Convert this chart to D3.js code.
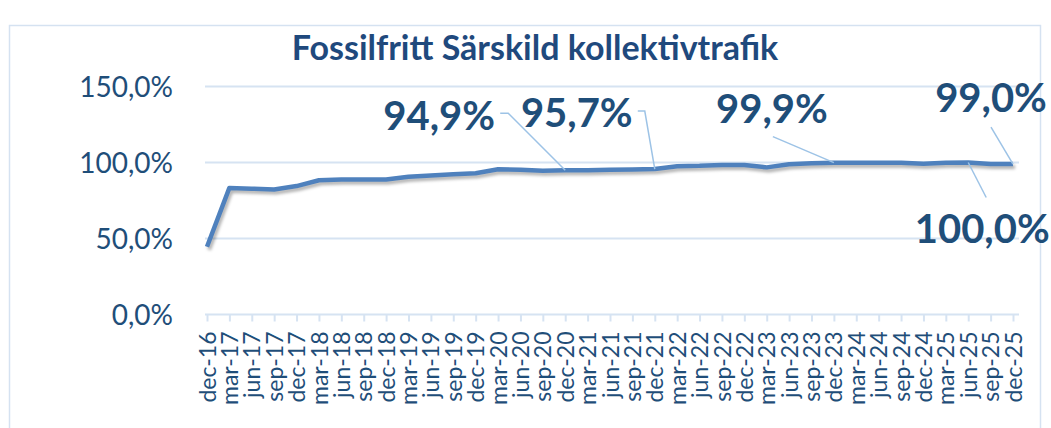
<!DOCTYPE html>
<html>
<head>
<meta charset="utf-8">
<script src="https://cdn.jsdelivr.net/npm/d3@7"></script>
<style>
  body { margin: 0; background: #fff; }
  svg { display: block; font-family: Lato, "Open Sans", sans-serif; }
</style>
</head>
<body>
<svg id="chart" width="1051" height="428"></svg>
<script>
// chart data
var periods = ["dec-16","mar-17","jun-17","sep-17","dec-17","mar-18","jun-18","sep-18","dec-18",
  "mar-19","jun-19","sep-19","dec-19","mar-20","jun-20","sep-20","dec-20","mar-21","jun-21",
  "sep-21","dec-21","mar-22","jun-22","sep-22","dec-22","mar-23","jun-23","sep-23","dec-23",
  "mar-24","jun-24","sep-24","dec-24","mar-25","jun-25","sep-25","dec-25"];
var shares = [44.6, 83.3, 82.8, 82.3, 84.5, 88.3, 88.8, 88.8, 88.8,
  90.6, 91.5, 92.2, 92.9, 95.5, 95.3, 94.6, 94.9, 94.9, 95.3,
  95.4, 95.7, 97.6, 97.8, 98.4, 98.3, 96.8, 98.9, 99.5, 99.9,
  99.9, 99.9, 99.8, 99.1, 99.8, 100.0, 99.0, 99.0];
var yTicks = [0, 50, 100, 150];
var labelPeriods = ["dec-20", "dec-21", "dec-23", "jun-25", "dec-25"];
var chartTitle = "Fossilfritt Särskild kollektivtrafik";

// label placement (offsets from the point, px) – layout only
var labelLayout = {
  "dec-20": {tx: -126, ty: -40, path: [[-65, -57], [-57, -57]]},
  "dec-21": {tx: -78, ty: -42, path: [[-17, -58], [-10, -58]]},
  "dec-23": {tx: -62, ty: -40, path: [[-61, -26]]},
  "jun-25": {tx: 14, ty: 80, path: [[18, 35]]},
  "dec-25": {tx: -22, ty: -52, path: [[-22, -37]]}
};

var svg = d3.select("#chart");
var blue = "#1F4E79";

var fmt = function (v) { return d3.format(".1f")(v).replace(".", ",") + "%"; };

var x = d3.scalePoint().domain(periods).range([207, 1013]);
var y = d3.scaleLinear().domain([0, 150]).range([314.5, 86.5]);

// outer frame
svg.append("rect")
  .attr("x", 9.5).attr("y", 25.5)
  .attr("width", 1031).attr("height", 410)
  .attr("fill", "none").attr("stroke", "#D5E2F1").attr("stroke-width", 1.5);

// title
svg.append("text")
  .attr("x", 535).attr("y", 60)
  .attr("text-anchor", "middle")
  .attr("font-size", 34).attr("font-weight", 700)
  .attr("fill", "#1F497D")
  .text(chartTitle);

// gridlines
svg.append("g").selectAll("line")
  .data(yTicks.filter(function (d) { return d > 0; }))
  .enter().append("line")
  .attr("x1", 205).attr("x2", 1019)
  .attr("y1", function (d) { return y(d); })
  .attr("y2", function (d) { return y(d); })
  .attr("stroke", "#D6E3F2").attr("stroke-width", 2);

// y axis labels
svg.append("g").selectAll("text")
  .data(yTicks)
  .enter().append("text")
  .attr("x", 173)
  .attr("y", function (d) { return y(d); })
  .attr("dy", "0.36em")
  .attr("text-anchor", "end")
  .attr("font-size", 28)
  .attr("fill", blue)
  .text(fmt);

// x axis
var xAxis = d3.axisBottom(x).tickSize(7).tickPadding(10).tickSizeOuter(0);
var gx = svg.append("g")
  .attr("transform", "translate(0," + y(0) + ")")
  .call(xAxis);
gx.select(".domain").remove();
gx.append("line")
  .attr("x1", 205).attr("x2", 1019)
  .attr("stroke", "#D6E3F2").attr("stroke-width", 2);
gx.selectAll(".tick line").attr("stroke", "#D6E3F2").attr("stroke-width", 2);
gx.selectAll(".tick text")
  .attr("transform", "rotate(-90)")
  .attr("x", -17).attr("y", 0)
  .attr("dy", "0.35em")
  .attr("text-anchor", "end")
  .attr("font-size", 23)
  .attr("font-family", "Lato, sans-serif")
  .attr("fill", blue);

// line with soft shadow
var defs = svg.append("defs");
var f = defs.append("filter").attr("id", "shadow").attr("x", "-5%").attr("y", "-20%")
  .attr("width", "110%").attr("height", "140%");
f.append("feGaussianBlur").attr("stdDeviation", 1.6);

var line = d3.line()
  .x(function (d, i) { return x(periods[i]); })
  .y(function (d) { return y(d); });

svg.append("path")
  .datum(shares)
  .attr("d", line)
  .attr("transform", "translate(2,3)")
  .attr("fill", "none")
  .attr("stroke", "#000").attr("stroke-opacity", 0.3)
  .attr("stroke-width", 4)
  .attr("filter", "url(#shadow)");

svg.append("path")
  .datum(shares)
  .attr("d", line)
  .attr("fill", "none")
  .attr("stroke", "#4F81BD")
  .attr("stroke-width", 4.5)
  .attr("stroke-linejoin", "round");

// data labels with leader lines
labelPeriods.forEach(function (p) {
  var i = periods.indexOf(p);
  var px = x(p), py = y(shares[i]);
  var L = labelLayout[p];
  var pts = L.path.map(function (o) { return [px + o[0], py + o[1]]; }).concat([[px, py]]);
  svg.append("path")
    .attr("d", d3.line()(pts))
    .attr("fill", "none")
    .attr("stroke", "#9DC3E6").attr("stroke-width", 1.5);
  svg.append("text")
    .attr("x", px + L.tx).attr("y", py + L.ty)
    .attr("text-anchor", "middle")
    .attr("font-size", 40).attr("font-weight", 700)
    .attr("fill", blue)
    .text(fmt(shares[i]));
});
</script>
</body>
</html>
